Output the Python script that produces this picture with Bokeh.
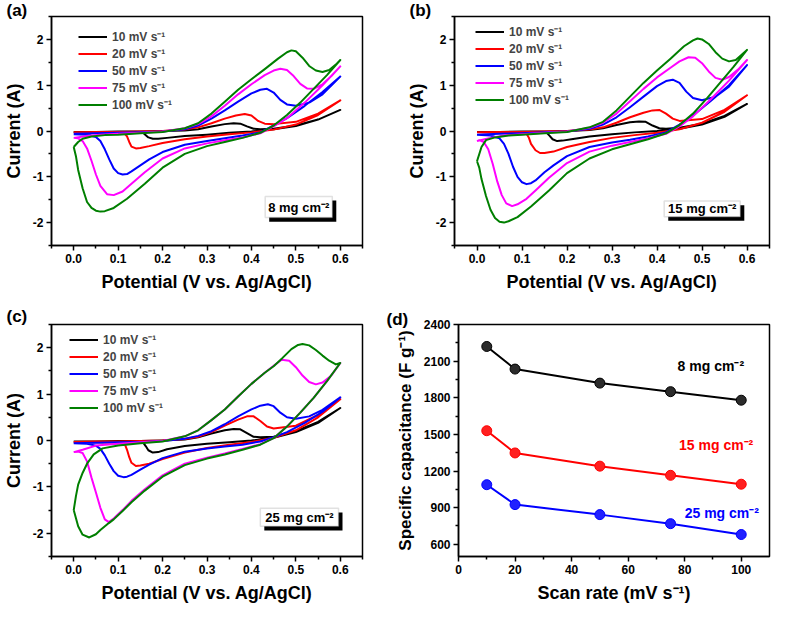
from bokeh.plotting import figure
from bokeh.layouts import column, row
from bokeh.models import (FixedTicker, PrintfTickFormatter, Label, BoxAnnotation, Range1d)
from bokeh.embed import file_html
from bokeh.resources import INLINE

# ---------------- data ----------------
SCANS = ["10 mV s\u207b\u00b9", "20 mV s\u207b\u00b9", "50 mV s\u207b\u00b9",
         "75 mV s\u207b\u00b9", "100 mV s\u207b\u00b9"]
COLORS = ["#000000", "#FF0000", "#0000FF", "#FF00FF", "#007F00"]
LOADINGS = ["8 mg cm\u207b\u00b2", "15 mg cm\u207b\u00b2", "25 mg cm\u207b\u00b2"]

# panel (a) 8 mg cm-2 : potential (V) and current (A), forward then reverse scan
A10_V = [0, 0.05, 0.1, 0.15, 0.2, 0.25, 0.28, 0.31, 0.34, 0.36, 0.375, 0.39, 0.405, 0.42, 0.45, 0.5, 0.55, 0.6,
         0.55, 0.5, 0.45, 0.4, 0.35, 0.3, 0.25, 0.21, 0.19, 0.178, 0.168, 0.161, 0.156, 0.13, 0.08, 0.03, 0]
A10_I = [-0.02, -0.02, -0.01, -0.01, 0.0, 0.01, 0.04, 0.1, 0.15, 0.17, 0.16, 0.1, 0.05, 0.04, 0.05, 0.12, 0.25, 0.46,
         0.25, 0.11, 0.04, -0.01, -0.04, -0.08, -0.11, -0.15, -0.17, -0.17, -0.14, -0.08, -0.04, -0.03, -0.03, -0.03, -0.02]
A20_V = [0, 0.05, 0.1, 0.15, 0.2, 0.25, 0.28, 0.31, 0.34, 0.365, 0.385, 0.4, 0.415, 0.43, 0.45, 0.5, 0.55, 0.6,
         0.55, 0.5, 0.45, 0.4, 0.35, 0.3, 0.25, 0.2, 0.17, 0.15, 0.14, 0.13, 0.125, 0.12, 0.115, 0.1, 0.05, 0]
A20_I = [-0.03, -0.02, -0.02, -0.01, 0.0, 0.03, 0.08, 0.17, 0.27, 0.34, 0.37, 0.34, 0.22, 0.16, 0.15, 0.2, 0.38, 0.67,
         0.35, 0.14, 0.03, -0.03, -0.07, -0.12, -0.18, -0.26, -0.33, -0.37, -0.38, -0.34, -0.24, -0.12, -0.06, -0.04, -0.04, -0.03]
A50_V = [0, 0.05, 0.1, 0.15, 0.2, 0.25, 0.28, 0.31, 0.34, 0.37, 0.4, 0.42, 0.435, 0.45, 0.465, 0.48, 0.5, 0.53, 0.56, 0.6,
         0.56, 0.52, 0.48, 0.45, 0.42, 0.38, 0.34, 0.3, 0.25, 0.2, 0.17, 0.15, 0.13, 0.12, 0.11, 0.1, 0.09, 0.08, 0.07, 0.06, 0.05, 0.03, 0]
A50_I = [-0.06, -0.05, -0.04, -0.03, -0.01, 0.04, 0.12, 0.27, 0.45, 0.64, 0.82, 0.9, 0.92, 0.84, 0.68, 0.58, 0.55, 0.62, 0.8, 1.19,
         0.85, 0.55, 0.28, 0.12, -0.03, -0.1, -0.16, -0.22, -0.3, -0.46, -0.62, -0.75, -0.88, -0.94, -0.95, -0.92, -0.82, -0.62, -0.4, -0.22, -0.13, -0.08, -0.07]
A75_V = [0, 0.03, 0.06, 0.1, 0.15, 0.2, 0.25, 0.28, 0.31, 0.34, 0.37, 0.4, 0.43, 0.45, 0.465, 0.48, 0.495, 0.51, 0.525, 0.54, 0.56, 0.58, 0.6,
         0.56, 0.52, 0.48, 0.45, 0.42, 0.38, 0.34, 0.3, 0.25, 0.2, 0.16, 0.13, 0.11, 0.09, 0.075, 0.06, 0.05, 0.04, 0.03, 0.02, 0.01, 0]
A75_I = [-0.15, -0.11, -0.08, -0.06, -0.04, -0.01, 0.06, 0.15, 0.32, 0.55, 0.8, 1.02, 1.22, 1.32, 1.36, 1.33, 1.2, 1.03, 0.93, 0.92, 1.02, 1.2, 1.41,
         1.0, 0.62, 0.28, 0.1, -0.05, -0.14, -0.2, -0.27, -0.38, -0.6, -0.9, -1.15, -1.32, -1.4, -1.38, -1.2, -0.95, -0.65, -0.38, -0.22, -0.16, -0.15]
A100_V = [0, 0.01, 0.02, 0.04, 0.07, 0.1, 0.15, 0.2, 0.25, 0.28, 0.31, 0.34, 0.37, 0.4, 0.43, 0.46, 0.48, 0.49, 0.5, 0.515, 0.53, 0.545, 0.56, 0.575, 0.59, 0.6,
          0.57, 0.54, 0.51, 0.48, 0.45, 0.42, 0.38, 0.34, 0.3, 0.25, 0.2, 0.16, 0.12, 0.09, 0.07, 0.06, 0.05, 0.04, 0.03, 0.02, 0.01, 0.005, 0]
A100_I = [-0.35, -0.24, -0.17, -0.12, -0.09, -0.08, -0.05, -0.02, 0.06, 0.17, 0.38, 0.64, 0.9, 1.13, 1.35, 1.58, 1.72, 1.76, 1.74, 1.6, 1.42, 1.32, 1.29, 1.33, 1.45, 1.55,
          1.22, 0.92, 0.62, 0.35, 0.12, -0.04, -0.15, -0.24, -0.33, -0.5, -0.8, -1.15, -1.48, -1.68, -1.75, -1.76, -1.74, -1.68, -1.55, -1.25, -0.85, -0.55, -0.35]

# panel (b) 15 mg cm-2
B10_V = [0, 0.05, 0.1, 0.15, 0.2, 0.25, 0.28, 0.31, 0.34, 0.36, 0.375, 0.39, 0.405, 0.42, 0.45, 0.5, 0.55, 0.6,
         0.55, 0.5, 0.45, 0.4, 0.35, 0.3, 0.25, 0.21, 0.19, 0.178, 0.168, 0.161, 0.155, 0.13, 0.08, 0.03, 0]
B10_I = [-0.02, -0.02, -0.01, -0.01, 0.0, 0.02, 0.06, 0.13, 0.19, 0.21, 0.2, 0.12, 0.06, 0.05, 0.07, 0.16, 0.33, 0.59,
         0.31, 0.14, 0.05, 0.0, -0.03, -0.07, -0.12, -0.18, -0.21, -0.22, -0.18, -0.1, -0.04, -0.03, -0.03, -0.02, -0.02]
B20_V = [0, 0.05, 0.1, 0.15, 0.2, 0.25, 0.28, 0.31, 0.34, 0.37, 0.39, 0.405, 0.42, 0.435, 0.45, 0.5, 0.55, 0.6,
         0.55, 0.5, 0.45, 0.4, 0.35, 0.3, 0.25, 0.2, 0.17, 0.15, 0.14, 0.13, 0.12, 0.115, 0.11, 0.1, 0.05, 0]
B20_I = [-0.03, -0.02, -0.02, -0.01, 0.0, 0.03, 0.08, 0.18, 0.3, 0.4, 0.45, 0.46, 0.38, 0.27, 0.22, 0.26, 0.46, 0.78,
         0.42, 0.18, 0.04, -0.04, -0.09, -0.15, -0.24, -0.35, -0.45, -0.48, -0.48, -0.42, -0.28, -0.14, -0.06, -0.04, -0.04, -0.03]
B50_V = [0, 0.05, 0.1, 0.15, 0.2, 0.25, 0.28, 0.31, 0.34, 0.37, 0.4, 0.42, 0.435, 0.45, 0.465, 0.48, 0.5, 0.53, 0.56, 0.6,
         0.56, 0.52, 0.48, 0.45, 0.42, 0.38, 0.34, 0.3, 0.25, 0.2, 0.17, 0.15, 0.13, 0.12, 0.11, 0.1, 0.09, 0.08, 0.07, 0.06, 0.05, 0.03, 0]
B50_I = [-0.08, -0.06, -0.05, -0.03, -0.01, 0.05, 0.14, 0.3, 0.52, 0.75, 0.98, 1.09, 1.12, 1.05, 0.86, 0.72, 0.67, 0.75, 0.97, 1.44,
         1.0, 0.66, 0.34, 0.14, -0.03, -0.12, -0.19, -0.25, -0.35, -0.55, -0.75, -0.9, -1.08, -1.14, -1.16, -1.12, -1.0, -0.78, -0.5, -0.28, -0.16, -0.1, -0.08]
B75_V = [0, 0.03, 0.06, 0.1, 0.15, 0.2, 0.25, 0.28, 0.31, 0.34, 0.37, 0.4, 0.43, 0.45, 0.47, 0.485, 0.5, 0.515, 0.53, 0.545, 0.56, 0.58, 0.6,
         0.56, 0.52, 0.48, 0.45, 0.42, 0.38, 0.34, 0.3, 0.25, 0.2, 0.16, 0.13, 0.11, 0.09, 0.078, 0.065, 0.055, 0.045, 0.035, 0.025, 0.015, 0.005, 0]
B75_I = [-0.22, -0.15, -0.1, -0.07, -0.04, -0.01, 0.07, 0.18, 0.38, 0.65, 0.92, 1.17, 1.38, 1.52, 1.61, 1.6, 1.48, 1.3, 1.16, 1.12, 1.18, 1.34, 1.55,
         1.1, 0.7, 0.32, 0.1, -0.06, -0.16, -0.24, -0.32, -0.45, -0.7, -1.02, -1.3, -1.48, -1.6, -1.64, -1.58, -1.4, -1.1, -0.72, -0.4, -0.24, -0.2, -0.22]
B100_V = [0, 0.01, 0.02, 0.04, 0.07, 0.1, 0.15, 0.2, 0.25, 0.28, 0.31, 0.34, 0.37, 0.4, 0.43, 0.46, 0.48, 0.49, 0.5, 0.515, 0.53, 0.545, 0.56, 0.575, 0.59, 0.6,
          0.57, 0.54, 0.51, 0.48, 0.45, 0.42, 0.38, 0.34, 0.3, 0.25, 0.2, 0.16, 0.12, 0.09, 0.07, 0.06, 0.05, 0.04, 0.03, 0.02, 0.01, 0.005, 0]
B100_I = [-0.66, -0.35, -0.2, -0.14, -0.1, -0.08, -0.05, -0.02, 0.08, 0.2, 0.45, 0.75, 1.05, 1.32, 1.58, 1.85, 1.98, 2.02, 2.0, 1.9, 1.72, 1.58, 1.52, 1.55, 1.68, 1.77,
          1.4, 1.05, 0.7, 0.38, 0.13, -0.05, -0.18, -0.29, -0.4, -0.6, -0.92, -1.3, -1.65, -1.88, -1.97, -2.0, -1.98, -1.9, -1.72, -1.42, -1.05, -0.8, -0.66]

# panel (c) 25 mg cm-2
C10_V = [0, 0.05, 0.1, 0.15, 0.2, 0.25, 0.28, 0.31, 0.34, 0.36, 0.375, 0.39, 0.405, 0.42, 0.45, 0.5, 0.55, 0.6,
         0.55, 0.5, 0.45, 0.4, 0.35, 0.3, 0.25, 0.21, 0.19, 0.178, 0.168, 0.162, 0.156, 0.13, 0.08, 0.03, 0]
C10_I = [-0.02, -0.02, -0.01, -0.01, 0.0, 0.02, 0.07, 0.15, 0.22, 0.25, 0.24, 0.16, 0.08, 0.07, 0.08, 0.2, 0.4, 0.7,
         0.38, 0.18, 0.06, 0.0, -0.04, -0.07, -0.12, -0.19, -0.25, -0.26, -0.21, -0.12, -0.04, -0.03, -0.03, -0.02, -0.02]
C20_V = [0, 0.05, 0.1, 0.15, 0.2, 0.25, 0.28, 0.31, 0.34, 0.37, 0.39, 0.405, 0.42, 0.435, 0.45, 0.5, 0.55, 0.6,
         0.55, 0.5, 0.45, 0.4, 0.35, 0.3, 0.25, 0.2, 0.17, 0.15, 0.14, 0.13, 0.125, 0.12, 0.115, 0.1, 0.05, 0]
C20_I = [-0.03, -0.02, -0.02, -0.01, 0.0, 0.03, 0.08, 0.18, 0.32, 0.45, 0.52, 0.52, 0.42, 0.3, 0.26, 0.32, 0.55, 0.89,
         0.5, 0.22, 0.06, -0.03, -0.09, -0.16, -0.26, -0.4, -0.5, -0.54, -0.55, -0.48, -0.36, -0.2, -0.08, -0.05, -0.04, -0.04]
C50_V = [0, 0.05, 0.1, 0.15, 0.2, 0.25, 0.28, 0.31, 0.34, 0.37, 0.4, 0.42, 0.437, 0.45, 0.465, 0.48, 0.5, 0.53, 0.56, 0.6,
         0.56, 0.52, 0.48, 0.45, 0.42, 0.38, 0.34, 0.3, 0.25, 0.2, 0.17, 0.15, 0.13, 0.12, 0.112, 0.1, 0.09, 0.08, 0.07, 0.06, 0.05, 0.03, 0]
C50_I = [-0.06, -0.05, -0.04, -0.03, -0.01, 0.04, 0.1, 0.2, 0.35, 0.52, 0.67, 0.75, 0.78, 0.74, 0.6, 0.5, 0.47, 0.52, 0.66, 0.93,
         0.62, 0.38, 0.18, 0.07, -0.02, -0.09, -0.13, -0.17, -0.24, -0.38, -0.52, -0.63, -0.74, -0.78, -0.79, -0.76, -0.66, -0.5, -0.32, -0.18, -0.11, -0.07, -0.06]
C75_V = [0, 0.02, 0.05, 0.1, 0.15, 0.2, 0.25, 0.28, 0.31, 0.34, 0.37, 0.4, 0.43, 0.45, 0.468, 0.485, 0.5, 0.515, 0.53, 0.545, 0.56, 0.58, 0.6,
         0.57, 0.54, 0.51, 0.48, 0.45, 0.42, 0.38, 0.34, 0.3, 0.25, 0.2, 0.16, 0.13, 0.11, 0.09, 0.079, 0.07, 0.06, 0.05, 0.04, 0.03, 0.02, 0.01, 0]
C75_I = [-0.25, -0.2, -0.11, -0.07, -0.04, -0.01, 0.09, 0.22, 0.44, 0.67, 0.95, 1.22, 1.46, 1.61, 1.74, 1.72, 1.58, 1.4, 1.26, 1.21, 1.25, 1.4, 1.67,
         1.28, 0.92, 0.6, 0.3, 0.05, -0.08, -0.18, -0.28, -0.37, -0.5, -0.75, -1.05, -1.3, -1.5, -1.68, -1.76, -1.7, -1.45, -1.12, -0.8, -0.45, -0.27, -0.24, -0.25]
C100_V = [0, 0.005, 0.01, 0.02, 0.03, 0.045, 0.065, 0.1, 0.15, 0.2, 0.25, 0.28, 0.31, 0.34, 0.37, 0.4, 0.43, 0.45, 0.47, 0.49, 0.505, 0.515, 0.53, 0.545, 0.56, 0.575, 0.59, 0.6,
          0.57, 0.54, 0.51, 0.48, 0.45, 0.42, 0.38, 0.34, 0.3, 0.25, 0.2, 0.16, 0.13, 0.11, 0.09, 0.079, 0.06, 0.05, 0.035, 0.02, 0.01, 0]
C100_I = [-1.5, -1.2, -0.95, -0.7, -0.5, -0.3, -0.17, -0.11, -0.06, -0.02, 0.09, 0.22, 0.44, 0.67, 0.95, 1.22, 1.46, 1.6, 1.78, 1.97, 2.06, 2.08, 2.05, 1.95, 1.83, 1.72, 1.64, 1.67,
          1.28, 0.92, 0.6, 0.3, 0.05, -0.09, -0.2, -0.3, -0.39, -0.53, -0.78, -1.08, -1.33, -1.52, -1.7, -1.78, -1.93, -2.02, -2.09, -2.03, -1.85, -1.5]

# panel (d): specific capacitance vs scan rate
RATE = [10, 20, 50, 75, 100]
CAP_8 = [2220, 2035, 1920, 1850, 1780]
CAP_15 = [1530, 1348, 1240, 1165, 1092]
CAP_25 = [1088, 925, 843, 769, 680]

X_TICKS = [0.0, 0.1, 0.2, 0.3, 0.4, 0.5, 0.6]
X_MINOR = [-0.05, 0.05, 0.15, 0.25, 0.35, 0.45, 0.55, 0.65]
Y_TICKS = [-2, -1, 0, 1, 2]
Y_MINOR = [-2.5, -1.5, -0.5, 0.5, 1.5, 2.5]
D_X_TICKS = [0, 20, 40, 60, 80, 100]
D_X_MINOR = [10, 30, 50, 70, 90]
D_Y_TICKS = [600, 900, 1200, 1500, 1800, 2100, 2400]
D_Y_MINOR = [750, 1050, 1350, 1650, 1950, 2250]

FONT = "Liberation Sans"


def style(p, xt, xm, yt, ym, xfmt, yfmt):
    p.outline_line_color = "black"
    p.outline_line_width = 1.5
    p.xgrid.visible = False
    p.ygrid.visible = False
    p.background_fill_color = "white"
    p.border_fill_color = "white"
    p.xaxis[0].ticker = FixedTicker(ticks=xt, minor_ticks=xm)
    p.yaxis[0].ticker = FixedTicker(ticks=yt, minor_ticks=ym)
    p.xaxis[0].formatter = PrintfTickFormatter(format=xfmt)
    p.yaxis[0].formatter = PrintfTickFormatter(format=yfmt)
    for ax in (p.xaxis[0], p.yaxis[0]):
        ax.axis_line_width = 1.5
        ax.major_tick_line_width = 1.5
        ax.minor_tick_line_width = 1.5
        ax.major_tick_in = 0
        ax.major_tick_out = 5
        ax.minor_tick_in = 0
        ax.minor_tick_out = 3
        ax.major_label_text_font = FONT
        ax.major_label_text_font_size = "12px"
        ax.major_label_text_font_style = "bold"
        ax.major_label_text_color = "black"
        ax.major_label_standoff = 3
        ax.axis_label_text_font = FONT
        ax.axis_label_text_font_size = "18px"
        ax.axis_label_text_font_style = "bold"
        ax.axis_label_text_color = "black"
        ax.axis_label_standoff = 6


def panel_title(p, offset, standoff):
    # panel letter, drawn in the area above the frame, shifted to the left
    p.title.align = "left"
    p.title.offset = offset
    p.title.standoff = standoff
    p.title.text_font = FONT
    p.title.text_font_size = "17px"
    p.title.text_font_style = "bold"
    p.title.text_color = "black"


def cv_panel(curves, letter, loading, box, width, height, mb_left, mb_right, mb_top, mb_bottom,
             leg_x, leg_y, lab_dx, lab_standoff):
    p = figure(width=width, height=height, output_backend="svg", toolbar_location=None,
               title=letter,
               x_range=Range1d(-0.05, 0.65), y_range=Range1d(-2.5, 2.5),
               min_border_left=mb_left, min_border_right=mb_right,
               min_border_top=mb_top, min_border_bottom=mb_bottom,
               x_axis_label="Potential (V vs. Ag/AgCl)", y_axis_label="Current (A)")
    style(p, X_TICKS, X_MINOR, Y_TICKS, Y_MINOR, "%.1f", "%d")
    panel_title(p, lab_dx, lab_standoff)
    for (v, i), name, col in zip(curves, SCANS, COLORS):
        assert len(v) == len(i)
        p.line(v, i, line_color=col, line_width=2, line_join="round", legend_label=name)
    lg = p.legend[0]
    lg.location = (leg_x, leg_y)
    lg.label_text_font = FONT
    lg.label_text_font_size = "12px"
    lg.label_text_font_style = "bold"
    lg.glyph_width = 29
    lg.glyph_height = 17
    lg.label_height = 17
    lg.spacing = 0
    lg.padding = 0
    lg.margin = 0
    lg.label_standoff = 5
    lg.border_line_alpha = 0
    lg.background_fill_alpha = 0
    # sample loading box with shadow
    l, r, b, t = box
    p.add_layout(BoxAnnotation(left=l + 0.009, right=r + 0.009, bottom=b - 0.09, top=t - 0.09,
                               fill_color="black", fill_alpha=1, line_alpha=0))
    p.add_layout(BoxAnnotation(left=l, right=r, bottom=b, top=t, fill_color="white", fill_alpha=1,
                               line_color="#9a9a9a", line_width=1.5))
    p.add_layout(Label(x=(l + r) / 2, y=(b + t) / 2, text=loading, text_align="center",
                       text_baseline="middle", text_font=FONT, text_font_size="13px",
                       text_font_style="bold", text_color="black"))
    return p


pa = cv_panel([(A10_V, A10_I), (A20_V, A20_I), (A50_V, A50_I), (A75_V, A75_I), (A100_V, A100_I)],
              "(a)", LOADINGS[0], (0.431, 0.582, -1.89, -1.43),
              380, 298, 46, 18, 16, 53, 27, 132, -45, -6)
pb = cv_panel([(B10_V, B10_I), (B20_V, B20_I), (B50_V, B50_I), (B75_V, B75_I), (B100_V, B100_I)],
              "(b)", LOADINGS[1], (0.416, 0.585, -1.87, -1.53),
              391, 298, 74, 2, 16, 53, 21, 137, -45, -6)
pc = cv_panel([(C10_V, C10_I), (C20_V, C20_I), (C50_V, C50_I), (C75_V, C75_I), (C100_V, C100_I)],
              "(c)", LOADINGS[2], (0.42, 0.596, -1.85, -1.46),
              380, 308, 46, 18, 26, 50, 18, 140, -45, -2)

pd_ = figure(width=391, height=308, output_backend="svg", toolbar_location=None, title="(d)",
             x_range=Range1d(0, 110), y_range=Range1d(500, 2400),
             min_border_left=78, min_border_right=2, min_border_top=26, min_border_bottom=50,
             x_axis_label="Scan rate (mV s\u207b\u00b9)", y_axis_label="Specific capacitance (F g\u207b\u00b9)")
style(pd_, D_X_TICKS, D_X_MINOR, D_Y_TICKS, D_Y_MINOR, "%d", "%d")
pd_.yaxis[0].axis_label_text_font_size = "17px"
panel_title(pd_, -72, -9)
for vals, col, fill in [(CAP_8, "#000000", "#2b2b2b"), (CAP_15, "#FF0000", "#FF2020"), (CAP_25, "#0000FF", "#2020FF")]:
    pd_.line(RATE, vals, line_color=col, line_width=2)
    pd_.scatter(RATE, vals, size=10, fill_color=fill, line_color=col, line_width=1)
for text, col, x, y in [(LOADINGS[0], "#000000", 77.5, 2062), (LOADINGS[1], "#FF0000", 78, 1417),
                        (LOADINGS[2], "#0000FF", 80, 857)]:
    pd_.add_layout(Label(x=x, y=y, text=text, text_color=col, text_font=FONT, text_font_size="14px",
                         text_font_style="bold", text_align="left", text_baseline="middle"))

layout = column(row(pa, pb), row(pc, pd_))
open("out.html", "w").write(file_html(layout, INLINE))
